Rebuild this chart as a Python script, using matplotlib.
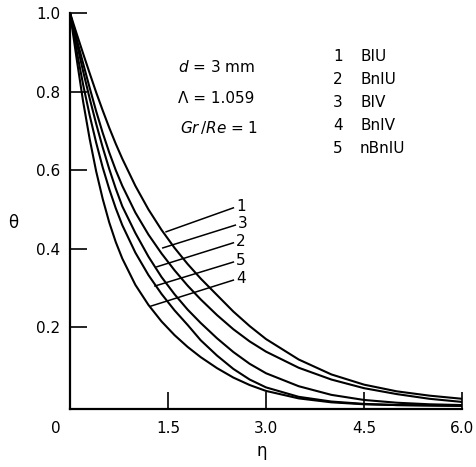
import matplotlib.pyplot as plt

plt.rcParams["font.family"] = ["DejaVu Sans"]
plt.rcParams["mathtext.fontset"] = "dejavusans"

# -----------------------------
# Data
# -----------------------------
eta = [0.0, 0.1, 0.2, 0.3, 0.4, 0.5, 0.6, 0.7, 0.8, 1.0, 1.2, 1.4, 1.6, 1.8,
       2.0, 2.25, 2.5, 2.75, 3.0, 3.5, 4.0, 4.5, 5.0, 5.5, 6.0]

theta_1 = [1.0, 0.948, 0.897, 0.847, 0.798, 0.752, 0.708, 0.667, 0.629, 0.56, 0.50,
           0.448, 0.402, 0.361, 0.324, 0.282, 0.24, 0.203, 0.17, 0.118, 0.08,
           0.054, 0.037, 0.026, 0.018]
theta_3 = [1.0, 0.935, 0.872, 0.81, 0.75, 0.695, 0.645, 0.60, 0.56, 0.492, 0.436,
           0.388, 0.345, 0.306, 0.271, 0.231, 0.195, 0.164, 0.138, 0.097, 0.067,
           0.045, 0.03, 0.018, 0.01]
theta_2 = [1.0, 0.925, 0.852, 0.783, 0.718, 0.658, 0.603, 0.553, 0.508, 0.44, 0.38,
           0.328, 0.284, 0.245, 0.211, 0.172, 0.137, 0.107, 0.083, 0.05, 0.028,
           0.015, 0.008, 0.004, 0.002]
theta_5 = [1.0, 0.905, 0.818, 0.74, 0.67, 0.607, 0.552, 0.503, 0.46, 0.39, 0.333,
           0.285, 0.243, 0.206, 0.167, 0.128, 0.094, 0.067, 0.047, 0.023, 0.011,
           0.005, 0.002, 0.001, 0.0]
theta_4 = [1.0, 0.885, 0.775, 0.68, 0.597, 0.527, 0.467, 0.417, 0.375, 0.308, 0.257,
           0.215, 0.18, 0.15, 0.124, 0.096, 0.072, 0.053, 0.038, 0.019, 0.009,
           0.004, 0.002, 0.001, 0.0]

curves = [theta_1, theta_3, theta_2, theta_5, theta_4]
curve_ids = ["1", "3", "2", "5", "4"]

# leader lines: start on the curve, end at the number
leader_start = [(1.47, 0.443), (1.42, 0.402), (1.33, 0.354), (1.30, 0.305), (1.24, 0.254)]
leader_end = [(2.50, 0.504), (2.53, 0.460), (2.50, 0.415), (2.50, 0.366), (2.50, 0.320)]

legend_ids = ["1", "2", "3", "4", "5"]
legend_names = ["BIU", "BnIU", "BIV", "BnIV", "nBnIU"]

x_ticks = [1.5, 3.0, 4.5, 6.0]
x_tick_labels = ["1.5", "3.0", "4.5", "6.0"]
y_ticks = [0.2, 0.4, 0.6, 0.8, 1.0]
y_tick_labels = ["0.2", "0.4", "0.6", "0.8", "1.0"]

# -----------------------------
# Figure
# -----------------------------
fig = plt.figure(figsize=(4.77, 4.67), dpi=100)
ax = fig.add_axes([0.1468, 0.1242, 0.8218, 0.848])

for theta in curves:
    ax.plot(eta, theta, color="black", linewidth=1.5)

for (x0, y0), (x1, y1), cid in zip(leader_start, leader_end, curve_ids):
    ax.plot([x0, x1], [y0, y1], color="black", linewidth=1.1)
    ax.text(x1 + 0.04, y1 + 0.004, cid, fontsize=11, ha="left", va="center")

ax.set_xlim(0, 6.0)
ax.set_ylim(-0.008, 1.0)

for s in ["top", "right"]:
    ax.spines[s].set_visible(False)
for s in ["left", "bottom"]:
    ax.spines[s].set_linewidth(1.6)

ax.set_xticks(x_ticks)
ax.set_xticklabels(x_tick_labels)
ax.set_yticks(y_ticks)
ax.set_yticklabels(y_tick_labels)
ax.tick_params(direction="in", length=12, width=1.2, labelsize=11)
ax.tick_params(axis="x", pad=9)
ax.tick_params(axis="y", pad=7)
ax.text(-0.035, -0.05, "0", transform=ax.transAxes, fontsize=11,
        ha="center", va="center")

ax.text(0.49, -0.105, "η", transform=ax.transAxes, fontsize=12, ha="center", va="center")
ax.text(-0.145, 0.47, "θ", transform=ax.transAxes, fontsize=12, ha="center", va="center")

# parameters
ax.text(1.65, 0.862, r"$d$ = 3 mm", fontsize=11, va="center")
ax.text(1.65, 0.783, "Λ = 1.059", fontsize=11, va="center")
ax.text(1.68, 0.709, r"$Gr\,/Re$ = 1", fontsize=11, va="center")

# legend
for i, (lid, name) in enumerate(zip(legend_ids, legend_names)):
    yy = 0.888 - i * 0.058
    ax.text(4.10, yy, lid, fontsize=11, va="center", ha="center")
    ax.text(4.44, yy, name, fontsize=11, va="center", ha="left")

fig.savefig("out.png", dpi=100)
